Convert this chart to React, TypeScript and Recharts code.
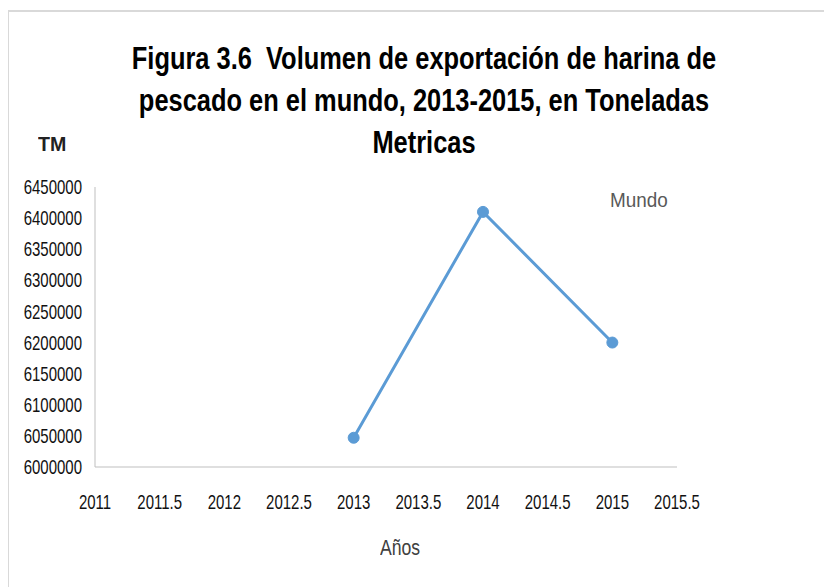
import React from 'react';
import { LineChart, Line, XAxis, YAxis } from 'recharts';

const years = [2013, 2014, 2015];
const volumes = [6047000, 6410000, 6200000];
const xTicks = [2011, 2011.5, 2012, 2012.5, 2013, 2013.5, 2014, 2014.5, 2015, 2015.5];
const yTicks = [6000000, 6050000, 6100000, 6150000, 6200000, 6250000, 6300000, 6350000, 6400000, 6450000];
const titleLines = [
  'Figura 3.6  Volumen de exportación de harina de',
  'pescado en el mundo, 2013-2015, en Toneladas',
  'Metricas',
];

const data = years.map((year, i) => ({ year, value: volumes[i] }));

const sans = '"Liberation Sans", Arial, sans-serif';

// the original uses a condensed face, so squeeze the glyphs horizontally
const NarrowTick = (props: any) => {
  const { x, y, payload, textAnchor, axis } = props;
  const dy = axis === 'x' ? '0.71em' : '0.355em';
  return (
    <g transform={`translate(${x},${y}) scale(0.75,1)`}>
      <text x={0} y={0} dy={dy} textAnchor={textAnchor} fontSize={20} fontFamily={sans} fill="#111">
        {payload.value}
      </text>
    </g>
  );
};

export default function App() {
  return (
    <div style={{ position: 'relative', width: 824, height: 579, background: '#fff' }}>
      {/* frame, cropped at right and bottom */}
      <div
        style={{
          position: 'absolute', left: -1, top: 2, right: -10, bottom: -10,
          borderLeft: '2px solid #d9d9d9', borderTop: '2px solid #d9d9d9',
        }}
      />
      <div
        style={{
          position: 'absolute', left: 0, width: 832, top: 30, textAlign: 'center',
          fontFamily: sans, fontWeight: 'bold', fontSize: 31, lineHeight: '42px', color: '#000',
          transform: 'scaleX(0.82)', transformOrigin: '416px 0',
        }}
      >
        {titleLines.map((t) => (
          <div key={t} style={{ whiteSpace: 'pre' }}>{t}</div>
        ))}
      </div>
      <div style={{ position: 'absolute', left: 30, top: 125, fontFamily: sans, fontWeight: 'bold', fontSize: 20, color: '#222', transform: 'scaleX(0.98)', transformOrigin: '0 0' }}>TM</div>
      <div style={{ position: 'absolute', left: 602, top: 180, fontFamily: sans, fontSize: 21, color: '#595959', transform: 'scaleX(0.9)', transformOrigin: '0 0' }}>Mundo</div>
      <div style={{ position: 'absolute', left: 372, top: 527, fontFamily: sans, fontSize: 22, color: '#404040', transform: 'scaleX(0.8)', transformOrigin: '0 0' }}>Años</div>
      <LineChart
        width={824}
        height={579}
        data={data}
        margin={{ top: 179, right: 155, bottom: 90, left: 0 }}
        style={{ position: 'absolute', left: 0, top: 0 }}
      >
        <XAxis
          dataKey="year"
          type="number"
          domain={[2011, 2015.5]}
          ticks={xTicks}
          height={30}
          tickLine={false}
          tickSize={0}
          tickMargin={28}
          stroke="#bfbfbf"
          tick={<NarrowTick axis="x" />}
          interval={0}
        />
        <YAxis
          type="number"
          domain={[6000000, 6450000]}
          ticks={yTicks}
          width={87}
          tickLine={false}
          tickSize={0}
          tickMargin={13}
          stroke="#bfbfbf"
          tick={<NarrowTick axis="y" />}
          interval={0}
        />
        <Line
          type="linear"
          dataKey="value"
          stroke="#5b9bd5"
          strokeWidth={3}
          dot={{ r: 5.5, fill: '#5b9bd5', stroke: '#5b9bd5', strokeWidth: 1 }}
          isAnimationActive={false}
        />
      </LineChart>
    </div>
  );
}
